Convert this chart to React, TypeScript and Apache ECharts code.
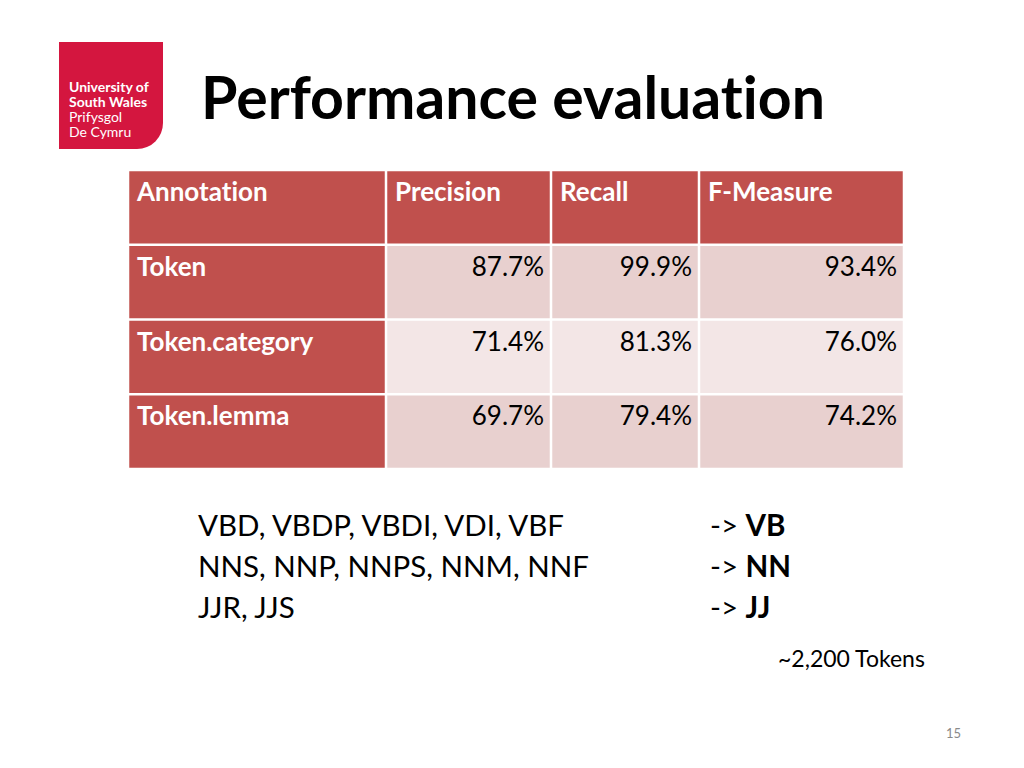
import React, { useEffect, useRef } from "react";
import * as echarts from "echarts";

const columns = ["Annotation", "Precision", "Recall", "F-Measure"];
const annotations = ["Token", "Token.category", "Token.lemma"];
const precision = [87.7, 71.4, 69.7];
const recall = [99.9, 81.3, 79.4];
const fMeasure = [93.4, 76.0, 74.2];

const sourceTags = ["VBD, VBDP, VBDI, VDI, VBF", "NNS, NNP, NNPS, NNM, NNF", "JJR, JJS"];
const targetTags = ["VB", "NN", "JJ"];
const tokenNote = "~2,200 Tokens";
const pageNumber = "15";
const titleText = "Performance evaluation";
const logoLines = ["University of", "South Wales", "Prifysgol", "De Cymru"];

// layout (not data)
const colEdges = [0, 258, 423, 571, 776];
const FONT = "Lato, 'Open Sans', sans-serif";
const RED = "#c0504d";
const BAND1 = "#e8d0cf";
const BAND2 = "#f3e6e6";

type Cell = { col: number; row: number; text: string; kind: "head" | "label" | "value" };

const rowsCats = [columns[0], ...annotations];
const valueCols = [precision, recall, fMeasure];
const cells: Cell[] = [];
columns.forEach((c, i) => cells.push({ col: i, row: 0, text: c, kind: "head" }));
annotations.forEach((a, r) => {
  cells.push({ col: 0, row: r + 1, text: a, kind: "label" });
  valueCols.forEach((vals, ci) =>
    cells.push({ col: ci + 1, row: r + 1, text: vals[r].toFixed(1) + "%", kind: "value" })
  );
});

const noLigCss =
  'svg text, svg tspan { font-variant-ligatures: none !important; font-feature-settings: "liga" 0, "clig" 0, "dlig" 0 !important; }';

export default function App() {
  const ref = useRef<HTMLDivElement>(null);
  useEffect(() => {
    if (!ref.current) return;
    const chart = echarts.init(ref.current, null, { renderer: "svg" });
    const graphics: any[] = [];
    // logo
    graphics.push({
      type: "rect",
      shape: { x: 59, y: 42, width: 104, height: 107, r: [0, 0, 26, 0] },
      style: { fill: "#d4163f" },
    });
    logoLines.forEach((t, i) =>
      graphics.push({
        type: "text",
        x: 69,
        y: 86 + i * 15,
        style: {
          text: t,
          fill: "#ffffff",
          font: `${i < 2 ? "bold" : "normal"} 14px ${FONT}`,
          verticalAlign: "middle",
        },
      })
    );
    graphics.push({
      type: "text",
      x: 201,
      y: 96,
      style: { text: titleText, fill: "#000", font: `bold 59px ${FONT}`, verticalAlign: "middle" },
    });
    sourceTags.forEach((t, i) => {
      graphics.push({
        type: "text",
        x: 198,
        y: 524 + i * 41,
        style: { text: t, fill: "#000", font: `normal 29.5px ${FONT}`, verticalAlign: "middle" },
      });
      graphics.push({
        type: "text",
        x: 710,
        y: 524 + i * 41,
        style: {
          text: "-> {b|" + targetTags[i] + "}",
          fill: "#000",
          font: `normal 29.5px ${FONT}`,
          verticalAlign: "middle",
          rich: { b: { font: `bold 29.5px ${FONT}`, fill: "#000" } },
        },
      });
    });
    graphics.push({
      type: "text",
      x: 778,
      y: 658,
      style: { text: tokenNote, fill: "#000", font: `normal 23px ${FONT}`, verticalAlign: "middle" },
    });
    graphics.push({
      type: "text",
      x: 946,
      y: 733,
      style: { text: pageNumber, fill: "#8a8a8a", font: `normal 13px ${FONT}`, verticalAlign: "middle" },
    });

    chart.setOption({
      animation: false,
      backgroundColor: "#ffffff",
      grid: { left: 128, top: 170, width: 776, height: 299 },
      xAxis: { type: "value", min: colEdges[0], max: colEdges[colEdges.length - 1], show: false },
      yAxis: { type: "category", data: rowsCats, inverse: true, show: false },
      graphic: graphics,
      series: [
        {
          type: "custom",
          data: cells.map((c) => [c.col, c.row]),
          renderItem: (params: any, api: any) => {
            const cell = cells[params.dataIndex];
            const left = api.coord([colEdges[cell.col], cell.row])[0];
            const right = api.coord([colEdges[cell.col + 1], cell.row])[0];
            const cy = api.coord([0, cell.row])[1];
            const h = api.size([0, 1])[1];
            const top = cy - h / 2;
            const inset = 1.25;
            let fill = RED;
            if (cell.kind === "value") fill = cell.row % 2 === 1 ? BAND1 : BAND2;
            const isVal = cell.kind === "value";
            return {
              type: "group",
              children: [
                {
                  type: "rect",
                  shape: { x: left + inset, y: top + inset, width: right - left - 2 * inset, height: h - 2 * inset },
                  style: { fill },
                },
                {
                  type: "text",
                  x: isVal ? right - 7 : left + 9,
                  y: top + 21,
                  style: {
                    text: cell.text,
                    fill: isVal ? "#000000" : "#ffffff",
                    font: `${isVal ? "normal" : "bold"} 26px ${FONT}`,
                    align: isVal ? "right" : "left",
                    verticalAlign: "middle",
                  },
                },
              ],
            };
          },
        },
      ],
    });
    return () => chart.dispose();
  }, []);
  return (
    <>
      <style>{noLigCss}</style>
      <div
        ref={ref}
        style={{
          position: "absolute",
          left: 0,
          top: 0,
          width: 1024,
          height: 768,
        }}
      />
    </>
  );
}
